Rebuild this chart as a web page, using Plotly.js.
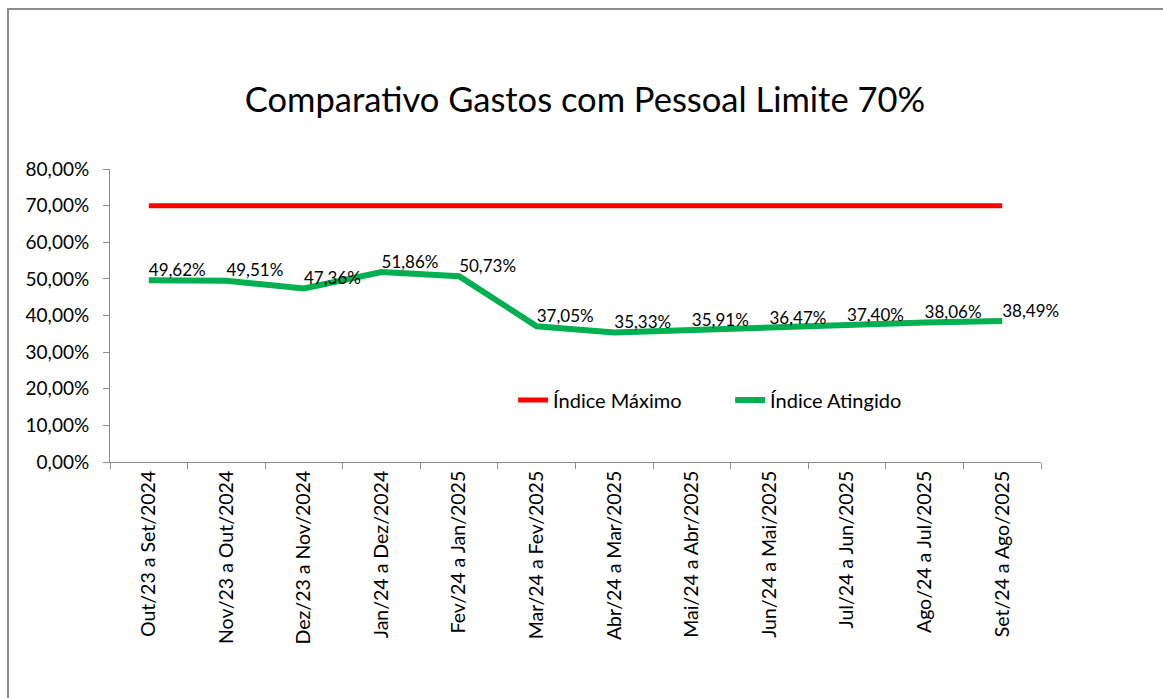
<!DOCTYPE html>
<html>
<head>
<meta charset="utf-8">
<script src="https://cdn.plot.ly/plotly-3.0.1.min.js"></script>
<style>
  html, body { margin: 0; padding: 0; background: #fff; }
  #wrap { position: relative; width: 1163px; height: 698px; overflow: hidden; }
  #frame { position: absolute; left: 7px; top: 8px; width: 1200px; height: 800px;
           border-left: 2px solid #8c8c8c; border-top: 2px solid #8c8c8c; box-sizing: border-box; pointer-events: none; }
  #chart { position: absolute; left: 0; top: 0; width: 1163px; height: 698px; }
</style>
</head>
<body>
<div id="wrap">
  <div id="chart"></div>
  <div id="frame"></div>
</div>
<script>
const categories = [
  "Out/23 a Set/2024", "Nov/23 a Out/2024", "Dez/23 a Nov/2024", "Jan/24 a Dez/2024",
  "Fev/24 a Jan/2025", "Mar/24 a Fev/2025", "Abr/24 a Mar/2025", "Mai/24 a Abr/2025",
  "Jun/24 a Mai/2025", "Jul/24 a Jun/2025", "Ago/24 a Jul/2025", "Set/24 a Ago/2025"
];
const indiceMaximo = [70, 70, 70, 70, 70, 70, 70, 70, 70, 70, 70, 70];
const indiceAtingido = [49.62, 49.51, 47.36, 51.86, 50.73, 37.05, 35.33, 35.91, 36.47, 37.40, 38.06, 38.49];
const yTickValues = [0, 10, 20, 30, 40, 50, 60, 70, 80];

const fmt = v => v.toFixed(2).replace('.', ',') + '%';
const FONT = 'Lato, "Liberation Sans", sans-serif';

const traces = [
  {
    x: categories, y: indiceMaximo, name: 'Índice Máximo',
    type: 'scatter', mode: 'lines',
    line: { color: '#ff0000', width: 5 },
    hoverinfo: 'skip'
  },
  {
    x: categories, y: indiceAtingido, name: 'Índice Atingido',
    type: 'scatter', mode: 'lines+text',
    line: { color: '#00b050', width: 6 },
    text: indiceAtingido.map(fmt),
    textposition: 'top right',
    textfont: { family: FONT, size: 17, color: '#000' },
    cliponaxis: false,
    hoverinfo: 'skip'
  }
];

const layout = {
  width: 1163, height: 698,
  margin: { l: 110, r: 122, t: 169, b: 236 },
  paper_bgcolor: '#fff', plot_bgcolor: '#fff',
  separators: ',.',
  showlegend: true,
  title: {
    text: 'Comparativo Gastos com Pessoal Limite 70%',
    font: { family: FONT, size: 34.5, color: '#000' },
    x: 0.503, xanchor: 'center', y: 0.857, yanchor: 'middle'
  },
  xaxis: {
    type: 'category',
    tickangle: -90,
    tickson: 'boundaries',
    ticks: 'outside', ticklen: 6, tickcolor: '#8c8c8c',
    showline: true, linecolor: '#8c8c8c', linewidth: 1,
    showgrid: false, zeroline: false,
    tickfont: { family: FONT, size: 19.5, color: '#000' },
    range: [-0.5, 11.5],
    fixedrange: true
  },
  yaxis: {
    range: [0, 80],
    tickvals: yTickValues,
    ticktext: yTickValues.map(fmt),
    ticks: 'outside', ticklen: 6, tickcolor: '#8c8c8c',
    ticklabelstandoff: 10,
    showline: true, linecolor: '#8c8c8c', linewidth: 1,
    showgrid: false, zeroline: false,
    tickfont: { family: FONT, size: 19, color: '#000' },
    fixedrange: true
  },
  legend: {
    orientation: 'h',
    x: 0.433, xanchor: 'left',
    y: 0.212, yanchor: 'middle',
    bgcolor: 'rgba(0,0,0,0)',
    font: { family: FONT, size: 20, color: '#000' },
    itemwidth: 30,
    entrywidth: 172, entrywidthmode: 'pixels'
  }
};

Plotly.newPlot('chart', traces, layout, { staticPlot: true, displayModeBar: false });
</script>
</body>
</html>
